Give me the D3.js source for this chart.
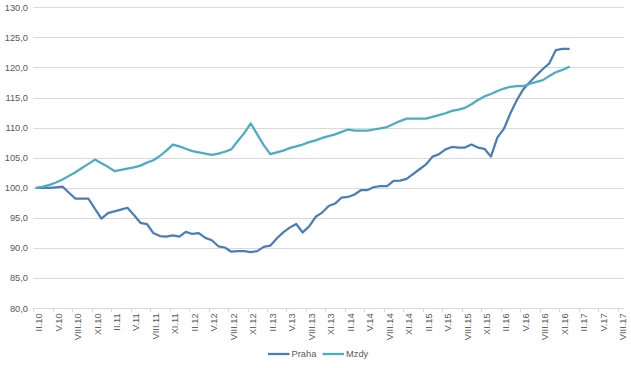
<!DOCTYPE html>
<html>
<head>
<meta charset="utf-8">
<script src="https://cdn.jsdelivr.net/npm/d3@7"></script>
<style>
  html, body { margin: 0; padding: 0; background: #ffffff; }
  svg { display: block; }
  text { font-family: "Liberation Sans", Arial, sans-serif; fill: #595959; }
</style>
</head>
<body>
<svg id="chart" width="631" height="368"></svg>
<script>
const categories = [
  "II.10","III.10","IV.10","V.10","VI.10","VII.10","VIII.10","IX.10","X.10","XI.10","XII.10",
  "I.11","II.11","III.11","IV.11","V.11","VI.11","VII.11","VIII.11","IX.11","X.11","XI.11","XII.11",
  "I.12","II.12","III.12","IV.12","V.12","VI.12","VII.12","VIII.12","IX.12","X.12","XI.12","XII.12",
  "I.13","II.13","III.13","IV.13","V.13","VI.13","VII.13","VIII.13","IX.13","X.13","XI.13","XII.13",
  "I.14","II.14","III.14","IV.14","V.14","VI.14","VII.14","VIII.14","IX.14","X.14","XI.14","XII.14",
  "I.15","II.15","III.15","IV.15","V.15","VI.15","VII.15","VIII.15","IX.15","X.15","XI.15","XII.15",
  "I.16","II.16","III.16","IV.16","V.16","VI.16","VII.16","VIII.16","IX.16","X.16","XI.16","XII.16",
  "I.17","II.17","III.17","IV.17","V.17","VI.17","VII.17","VIII.17"
];

const praha = [
  100.0, 100.0, 100.0, 100.1, 100.2, 99.2, 98.2, 98.2, 98.2, 96.5, 94.9,
  95.8, 96.1, 96.4, 96.7, 95.5, 94.2, 94.0, 92.5, 92.0, 91.9, 92.1, 91.9,
  92.7, 92.35, 92.5, 91.7, 91.3, 90.3, 90.1, 89.4, 89.5, 89.5, 89.35, 89.5,
  90.2, 90.4, 91.6, 92.6, 93.4, 94.0, 92.6, 93.6, 95.2, 95.9, 97.0, 97.4,
  98.4, 98.5, 98.9, 99.65, 99.65, 100.15, 100.3, 100.3, 101.15, 101.2, 101.5, 102.3,
  103.1, 103.9, 105.2, 105.6, 106.4, 106.8, 106.7, 106.7, 107.2, 106.7, 106.5, 105.2,
  108.4, 109.8, 112.4, 114.6, 116.4, 117.6, 118.7, 119.75, 120.7, 122.9, 123.1, 123.1
];

const mzdy = [
  100.0, 100.2, 100.5, 100.9, 101.4, 102.0, 102.6, 103.3, 104.0, 104.7, 104.1,
  103.5, 102.8, 103.0, 103.2, 103.4, 103.7, 104.2, 104.6, 105.3, 106.2, 107.2, 106.9,
  106.5, 106.1, 105.9, 105.7, 105.5, 105.7, 106.0, 106.4, 107.8, 109.1, 110.7, 108.9,
  107.1, 105.6, 105.9, 106.2, 106.6, 106.9, 107.2, 107.6, 107.9, 108.3, 108.6, 108.9,
  109.3, 109.7, 109.5, 109.5, 109.5, 109.7, 109.9, 110.1, 110.6, 111.1, 111.5, 111.5,
  111.5, 111.5, 111.8, 112.1, 112.4, 112.8, 113.0, 113.3, 113.9, 114.6, 115.2, 115.6,
  116.1, 116.5, 116.8, 116.9, 116.9, 117.3, 117.6, 117.9, 118.6, 119.2, 119.6, 120.1
];

const yTicks = [80, 85, 90, 95, 100, 105, 110, 115, 120, 125, 130];
const seriesNames = ["Praha", "Mzdy"];
const seriesColors = ["#4a7ebb", "#4bacc6"];

const svg = d3.select("#chart");
const plotL = 33.3, plotR = 624, plotT = 7.3, plotB = 308.3;

const x = d3.scaleBand().domain(categories).range([plotL, plotR]).padding(0);
const y = d3.scaleLinear().domain([80, 130]).range([plotB, plotT]);
const fmt = v => d3.format(".1f")(v).replace(".", ",");

// gridlines
svg.append("g").selectAll("line").data(yTicks).join("line")
  .attr("x1", plotL).attr("x2", plotR)
  .attr("y1", d => Math.round(y(d)) + 0.5).attr("y2", d => Math.round(y(d)) + 0.5)
  .attr("stroke", "#d9d9d9").attr("stroke-width", 1);

// y labels
svg.append("g").selectAll("text").data(yTicks).join("text")
  .attr("x", 28).attr("y", d => y(d)).attr("dy", "0.35em")
  .attr("text-anchor", "end").attr("font-size", "9.3px")
  .text(fmt);

// x tick marks at category boundaries every 3
const tickIdx = categories.map((c, i) => i).filter(i => i % 3 === 0);
svg.append("g").selectAll("line").data(tickIdx).join("line")
  .attr("x1", i => Math.round(x(categories[i])) + 0.5)
  .attr("x2", i => Math.round(x(categories[i])) + 0.5)
  .attr("y1", plotB).attr("y2", plotB + 4)
  .attr("stroke", "#d9d9d9").attr("stroke-width", 1);

// x labels
svg.append("g").selectAll("text").data(tickIdx).join("text")
  .attr("transform", i => `translate(${x(categories[i]) + x.bandwidth() / 2 + 2.3},${plotB + 5}) rotate(-90)`)
  .attr("dy", "0.35em")
  .attr("text-anchor", "end").attr("font-size", "9.3px")
  .text(i => categories[i]);

// lines
const line = d3.line()
  .x((d, i) => x(categories[i]) + x.bandwidth() / 2)
  .y(d => y(d));

[praha, mzdy].forEach((s, k) => {
  svg.append("path").datum(s)
    .attr("d", line)
    .attr("fill", "none")
    .attr("stroke", seriesColors[k])
    .attr("stroke-width", 2.25)
    .attr("stroke-linejoin", "round")
    .attr("stroke-linecap", "round");
});

// legend
const legendItems = [{ x: 268, name: seriesNames[0], c: seriesColors[0] }, { x: 322.5, name: seriesNames[1], c: seriesColors[1] }];
const lg = svg.append("g");
legendItems.forEach(it => {
  lg.append("line").attr("x1", it.x).attr("x2", it.x + 21.5)
    .attr("y1", 354).attr("y2", 354)
    .attr("stroke", it.c).attr("stroke-width", 2.25);
  lg.append("text").attr("x", it.x + 23.5).attr("y", 354).attr("dy", "0.35em")
    .attr("font-size", "9.3px").text(it.name);
});
</script>
</body>
</html>
